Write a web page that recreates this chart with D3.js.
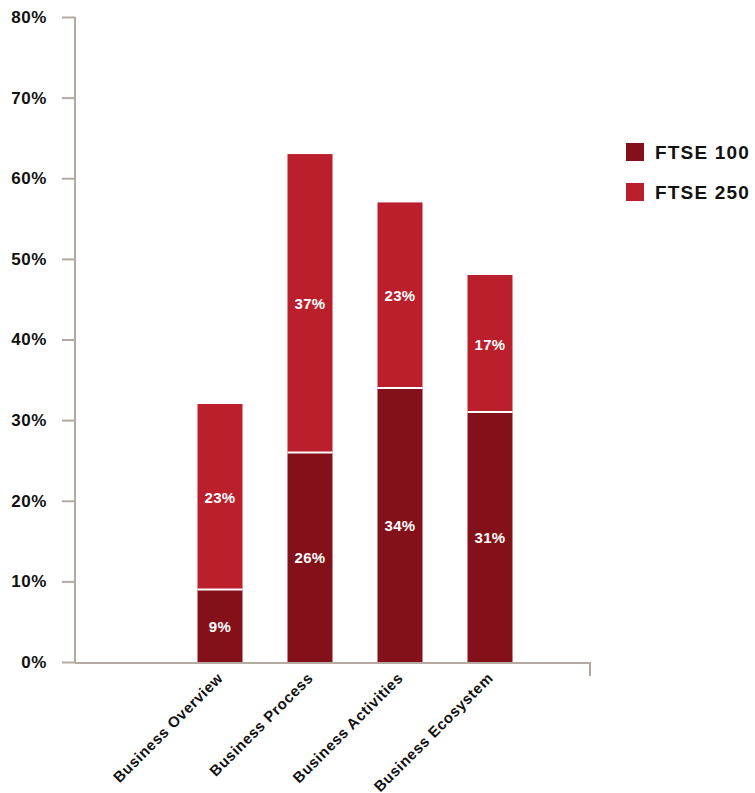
<!DOCTYPE html>
<html>
<head>
<meta charset="utf-8">
<script src="https://cdn.jsdelivr.net/npm/d3@7"></script>
<style>
  body { margin: 0; background: #fff; }
  text { font-family: "Liberation Sans", Arial, sans-serif; font-weight: bold; }
</style>
</head>
<body>
<div id="chart"></div>
<script>
const categories = ['Business Overview', 'Business Process', 'Business Activities', 'Business Ecosystem'];
const ftse100 = [9, 26, 34, 31];
const ftse250 = [23, 37, 23, 17];
const seriesNames = ['FTSE 100', 'FTSE 250'];
const seriesColors = ['#84111a', '#bb1f2c'];
const yTicks = [0, 10, 20, 30, 40, 50, 60, 70, 80];

const width = 755, height = 793;
const axisColor = '#b5aaa0';

const svg = d3.select('#chart').append('svg')
    .attr('width', width)
    .attr('height', height);

const y = d3.scaleLinear().domain([0, 80]).range([662, 17]);
const x = d3.scaleBand().domain(categories).range([175, 535]).paddingInner(0.5).paddingOuter(0.25);

// y axis
const yAxis = d3.axisLeft(y)
    .tickValues(yTicks)
    .tickFormat(d => d + '%')
    .tickSize(13)
    .tickPadding(15);
const gy = svg.append('g').attr('transform', 'translate(75,0)').call(yAxis);
gy.select('.domain').remove();
gy.selectAll('line').attr('stroke', axisColor).attr('stroke-width', 2);
gy.selectAll('text')
    .style('font-size', '17px')
    .style('letter-spacing', '0.6px')
    .attr('fill', '#111');
svg.append('line')
    .attr('x1', 75).attr('x2', 75)
    .attr('y1', y(80)).attr('y2', y(0) + 1)
    .attr('stroke', axisColor).attr('stroke-width', 2);

// stacked bars
const rows = categories.map((c, i) => ({ cat: c, a: ftse100[i], b: ftse250[i] }));
const stack = d3.stack().keys(['a', 'b'])(rows);

stack.forEach((layer, li) => {
  const g = svg.append('g');
  g.selectAll('rect')
    .data(layer)
    .enter()
    .append('rect')
    .attr('x', d => x(d.data.cat))
    .attr('width', x.bandwidth())
    .attr('y', d => y(d[1]))
    .attr('height', d => y(d[0]) - y(d[1]))
    .attr('fill', seriesColors[li]);
  g.selectAll('text')
    .data(layer)
    .enter()
    .append('text')
    .attr('x', d => x(d.data.cat) + x.bandwidth() / 2)
    .attr('y', d => (y(d[0]) + y(d[1])) / 2 + 6)
    .attr('text-anchor', 'middle')
    .attr('fill', '#fff')
    .style('font-size', '15px')
    .style('letter-spacing', '0.3px')
    .text(d => (d[1] - d[0]) + '%');
});

// white separators
svg.append('g').selectAll('line')
  .data(stack[0])
  .enter()
  .append('line')
  .attr('x1', d => x(d.data.cat))
  .attr('x2', d => x(d.data.cat) + x.bandwidth())
  .attr('y1', d => y(d[1]))
  .attr('y2', d => y(d[1]))
  .attr('stroke', '#fff')
  .attr('stroke-width', 2);

// x axis
svg.append('path')
    .attr('d', `M75,${y(0) + 1}H590V676`)
    .attr('fill', 'none')
    .attr('stroke', axisColor)
    .attr('stroke-width', 2);

svg.append('g').selectAll('text')
  .data(categories)
  .enter()
  .append('text')
  .attr('transform', d => `translate(${x(d) + x.bandwidth() / 2 + 4},${y(0) + 17}) rotate(-45)`)
  .attr('text-anchor', 'end')
  .attr('fill', '#111')
  .style('font-size', '15px')
  .style('letter-spacing', '0.6px')
  .text(d => d);

// legend
const legend = svg.append('g').attr('transform', 'translate(626,143)');
seriesNames.forEach((name, i) => {
  legend.append('rect')
    .attr('x', 0).attr('y', i * 40)
    .attr('width', 18).attr('height', 18)
    .attr('fill', seriesColors[i]);
  legend.append('text')
    .attr('x', 29).attr('y', i * 40 + 16)
    .attr('fill', '#111')
    .style('font-size', '19px')
    .style('letter-spacing', '1.2px')
    .text(name);
});
</script>
</body>
</html>
